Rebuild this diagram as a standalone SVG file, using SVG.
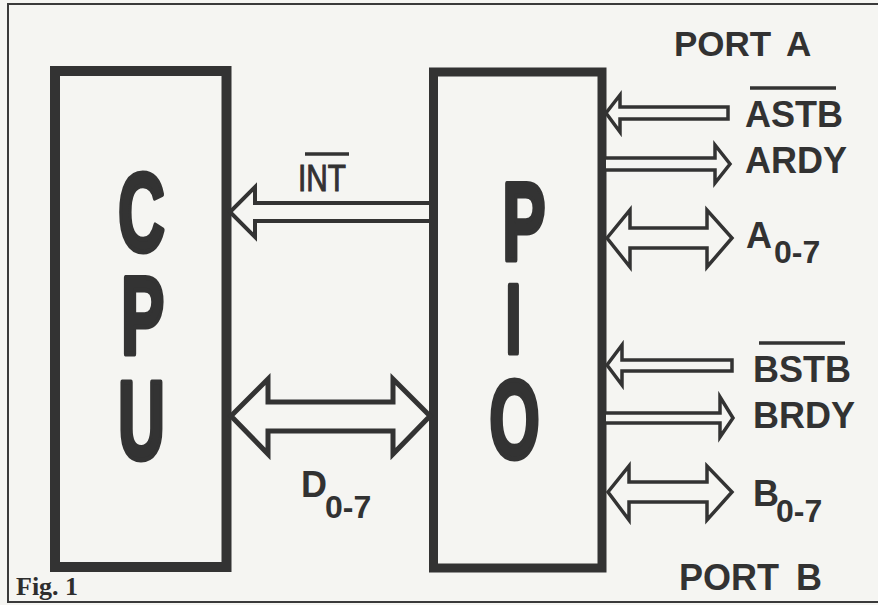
<svg xmlns="http://www.w3.org/2000/svg" width="878" height="605" viewBox="0 0 878 605">
<style>
.box{fill:none;stroke:#333;stroke-linejoin:miter}
.big{font-family:"Liberation Sans",Arial,sans-serif;font-weight:bold;font-size:112px;fill:#333;stroke:#333;stroke-width:5;stroke-linejoin:round;text-anchor:middle}
.lbl{font-family:"Liberation Sans",Arial,sans-serif;font-weight:bold;font-size:36px;fill:#323232}
.sub{font-family:"Liberation Sans",Arial,sans-serif;font-weight:bold;font-size:32px;fill:#323232}
.arr{fill:#f5f5f2;stroke:#333;stroke-linejoin:miter}
.ovl{stroke:#333;stroke-width:3.5}
</style>
<rect x="0" y="0" width="878" height="605" fill="#f5f5f2"/>
<path id="frame" d="M878,4 H8 V602 H878" fill="none" stroke="#3a3a3a" stroke-width="2"/>

<g id="cpu">
  <rect class="box" x="55" y="71" width="171.5" height="496" stroke-width="10"/>
  <text class="big" transform="translate(141.5,0) scale(0.58,1)"><tspan x="0" y="251">C</tspan><tspan x="2" y="354">P</tspan><tspan x="0" y="459">U</tspan></text>
</g>

<g id="pio">
  <rect class="box" x="433.5" y="72" width="168.5" height="496" stroke-width="9"/>
  <text class="big" transform="translate(518,0) scale(0.58,1)"><tspan x="10" y="260">P</tspan><tspan x="-8" y="353" style="font-size:98px">I</tspan><tspan x="-6" y="458">O</tspan></text>
</g>

<g id="connectors">
  <path id="int-arrow" class="arr" stroke-width="4" d="M429,203 H255 V187 L230,212 L255,237 V221 H429"/>
  <path id="d-bus" class="arr" stroke-width="5" d="M231,416 L268,379 V402 H393 V379 L430,416 L393,454 V431 H268 V454 Z"/>
  <path id="astb-arrow" class="arr" stroke-width="3.5" d="M606,113 L620,95 V107 H728 V119 H620 V132 Z"/>
  <path id="ardy-arrow" class="arr" stroke-width="3.5" d="M606,158 H715 V145 L730,164 L715,183 V170 H606"/>
  <path id="a-bus" class="arr" stroke-width="3.5" d="M607,238 L630,210 V228 H707 V210 L732,238 L707,267 V248 H630 V267 Z"/>
  <path id="bstb-arrow" class="arr" stroke-width="3.5" d="M607,365 L622,345 V360 H732 V371 H622 V385 Z"/>
  <path id="brdy-arrow" class="arr" stroke-width="3.5" d="M606,413 H720 V397 L733,418 L720,437 V423 H606"/>
  <path id="b-bus" class="arr" stroke-width="3.5" d="M608,492 L629,466 V482 H707 V466 L732,492 L707,520 V502 H629 V520 Z"/>
</g>

<g id="labels">
  <text class="lbl" x="298" y="191" stroke="#323232" stroke-width="1" textLength="48" lengthAdjust="spacingAndGlyphs" style="font-weight:normal">INT</text>
  <line class="ovl" x1="305" y1="154" x2="349" y2="154" stroke-width="3"/>

  <text class="lbl" x="301" y="497">D</text>
  <text class="sub" x="325" y="518">0-7</text>

  <text class="lbl" x="674" y="56" style="font-size:35px">PORT <tspan x="786">A</tspan></text>

  <text class="lbl" x="745" y="127">ASTB</text>
  <line class="ovl" x1="750" y1="88" x2="836" y2="88"/>
  <text class="lbl" x="745" y="173">ARDY</text>
  <text class="lbl" x="746" y="248">A</text>
  <text class="sub" x="774" y="263">0-7</text>

  <text class="lbl" x="753" y="382">BSTB</text>
  <line class="ovl" x1="759" y1="343" x2="845" y2="343"/>
  <text class="lbl" x="753" y="428">BRDY</text>
  <text class="lbl" x="753" y="506">B</text>
  <text class="sub" x="776" y="522">0-7</text>

  <text class="lbl" x="679" y="590" style="font-size:36px">PORT <tspan x="796">B</tspan></text>

  <text x="16" y="595" style="font-family:'Liberation Serif','Times New Roman',serif;font-weight:bold;font-size:26px;fill:#2e2e2e">Fig. 1</text>
</g>
</svg>
